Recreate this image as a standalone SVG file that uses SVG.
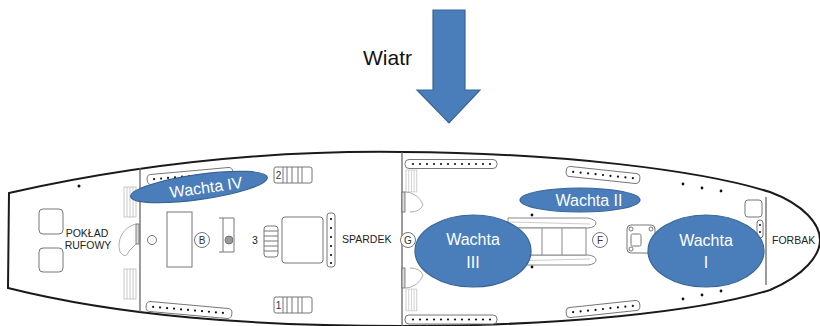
<svg xmlns="http://www.w3.org/2000/svg" width="820" height="326" viewBox="0 0 820 326">
<style>
.hull{fill:none;stroke:#1a1a1a;stroke-width:2}
.wall{fill:none;stroke:#666;stroke-width:1.3}
.thin{fill:#fff;stroke:#777;stroke-width:1}
.bench{fill:#fff;stroke:#777;stroke-width:1}
.door{fill:none;stroke:#999;stroke-width:0.8}
.dot{fill:#111}
.blue{fill:#4A7EBB;stroke:#3A6496;stroke-width:1.2}
.wt{font-family:"Liberation Sans",Arial,sans-serif;fill:#fff;font-size:16px;text-anchor:middle}
.lbl{font-family:"Liberation Sans",Arial,sans-serif;fill:#222;font-size:10.5px}
.cl{font-family:"Liberation Sans",Arial,sans-serif;fill:#333;font-size:10px;text-anchor:middle}
</style>
<defs>
<g id="bench12">
<rect x="-46" y="-4.5" width="92" height="9" rx="4" class="bench"/>
<g class="dot">
<circle cx="-38" cy="0" r="1.1"/><circle cx="-31" cy="0" r="1.1"/><circle cx="-24" cy="0" r="1.1"/><circle cx="-17" cy="0" r="1.1"/><circle cx="-10" cy="0" r="1.1"/><circle cx="-3" cy="0" r="1.1"/><circle cx="4" cy="0" r="1.1"/><circle cx="11" cy="0" r="1.1"/><circle cx="18" cy="0" r="1.1"/><circle cx="25" cy="0" r="1.1"/><circle cx="32" cy="0" r="1.1"/><circle cx="39" cy="0" r="1.1"/>
</g>
</g>
<g id="bench9">
<rect x="-37" y="-5" width="74" height="10" rx="4" class="bench"/>
<g class="dot">
<circle cx="-30" cy="0" r="1.1"/><circle cx="-22.5" cy="0" r="1.1"/><circle cx="-15" cy="0" r="1.1"/><circle cx="-7.5" cy="0" r="1.1"/><circle cx="0" cy="0" r="1.1"/><circle cx="7.5" cy="0" r="1.1"/><circle cx="15" cy="0" r="1.1"/><circle cx="22.5" cy="0" r="1.1"/><circle cx="30" cy="0" r="1.1"/>
</g>
</g>
<g id="bench11">
<rect x="-43" y="-5" width="86" height="10" rx="4" class="bench"/>
<g class="dot">
<circle cx="-36" cy="0" r="1.1"/><circle cx="-29" cy="0" r="1.1"/><circle cx="-22" cy="0" r="1.1"/><circle cx="-15" cy="0" r="1.1"/><circle cx="-8" cy="0" r="1.1"/><circle cx="-1" cy="0" r="1.1"/><circle cx="6" cy="0" r="1.1"/><circle cx="13" cy="0" r="1.1"/><circle cx="20" cy="0" r="1.1"/><circle cx="27" cy="0" r="1.1"/><circle cx="34" cy="0" r="1.1"/>
</g>
</g>
<g id="steps">
<rect x="0" y="0" width="38" height="16" rx="2" class="thin"/>
<line x1="9" y1="0" x2="9" y2="16" stroke="#777"/>
<line x1="13" y1="0" x2="13" y2="16" stroke="#777"/>
<line x1="18" y1="0" x2="18" y2="16" stroke="#777"/>
<line x1="24" y1="0" x2="24" y2="16" stroke="#777"/>
<line x1="28" y1="0" x2="28" y2="16" stroke="#777"/>
</g>
<g id="stair">
<rect x="0" y="0" width="12" height="30" fill="none" stroke="#bbb" stroke-width="0.8"/>
<line x1="3" y1="0" x2="3" y2="30" stroke="#bbb" stroke-width="0.8"/>
<line x1="6" y1="0" x2="6" y2="30" stroke="#bbb" stroke-width="0.8"/>
<line x1="9" y1="0" x2="9" y2="30" stroke="#bbb" stroke-width="0.8"/>
</g>
</defs>
<rect width="820" height="326" fill="#fff"/>

<g id="wind">
<text x="363" y="65" font-family="'Liberation Sans',Arial,sans-serif" font-size="21" fill="#111">Wiatr</text>
<path d="M433,10 L465,10 L465,90 L480,90 L449,123 L417,90 L433,90 Z" class="blue"/>
</g>

<g id="hull">
<path class="hull" d="M9,193 C120,168 250,150 402,152 C560,153 700,170 770,192 C805,205 820,225 820,240 C820,255 805,275 770,290 C700,312 560,326 402,326 C250,326 120,316 8,288 Z"/>
<line class="wall" x1="140" y1="168" x2="140" y2="312"/>
<line class="wall" x1="402" y1="152" x2="402" y2="326"/>
<line class="wall" x1="766" y1="197" x2="766" y2="285"/>
</g>

<g id="rufowy">
<circle class="dot" cx="79" cy="186" r="1.5"/>
<rect x="39" y="209" width="24" height="25" rx="4" class="thin"/>
<rect x="39" y="248" width="24" height="24" rx="4" class="thin"/>
<text class="lbl" x="87" y="237" text-anchor="middle">POKŁAD</text>
<text class="lbl" x="88" y="249" text-anchor="middle">RUFOWY</text>
<use href="#stair" x="124" y="187"/>
<use href="#stair" x="124" y="269"/>
<rect x="136" y="224" width="3" height="20" fill="#ddd" stroke="#666" stroke-width="0.8"/>
<path class="door" d="M136,224 A22,22 0 0 0 120,252 Q126,260 129,251 L136,244"/>
</g>

<g id="spardek">
<use href="#bench11" transform="translate(190,176) rotate(-5)"/>
<use href="#bench11" transform="translate(189,310) rotate(5)"/>
<circle cx="152" cy="240" r="4.5" class="thin"/>
<rect x="167" y="212" width="25" height="55" class="thin"/>
<circle cx="202" cy="240" r="7.5" class="thin"/>
<text class="cl" x="202" y="243.5">B</text>
<path d="M219,218 L234,218 L234,252 L219,252 M223,218 L223,252" fill="none" stroke="#777"/>
<circle cx="229" cy="240" r="4" fill="#999" stroke="#777"/>
<use href="#steps" x="274" y="167"/>
<text class="cl" x="278.5" y="179" font-size="10">2</text>
<use href="#steps" x="274" y="297"/>
<text class="cl" x="278.5" y="309" font-size="10">1</text>
<text class="lbl" x="252" y="244">3</text>
<rect x="264" y="226" width="14" height="31" rx="3" class="thin"/>
<path d="M264,231 H278 M264,236 H278 M264,241 H278 M264,246 H278 M264,251 H278" stroke="#777" fill="none"/>
<rect x="282" y="217" width="41" height="46" rx="3" class="thin"/>
<rect x="327" y="213" width="8" height="54" rx="3" class="bench"/>
<g class="dot"><circle cx="331" cy="219" r="1.1"/><circle cx="331" cy="228" r="1.1"/><circle cx="331" cy="237" r="1.1"/><circle cx="331" cy="246" r="1.1"/><circle cx="331" cy="255" r="1.1"/><circle cx="331" cy="263" r="1.1"/></g>
<text class="lbl" x="342" y="243">SPARDEK</text>
</g>

<g id="midship">
<use href="#bench12" x="451" y="164"/>
<use href="#bench12" x="451" y="319.5"/>
<use href="#stair" transform="translate(406,170) scale(0.9,0.73)"/>
<use href="#stair" transform="translate(406,289) scale(0.9,0.73)"/>
<rect x="402" y="192" width="3" height="20" fill="#ddd" stroke="#666" stroke-width="0.8"/>
<path class="door" d="M405,192 A19,19 0 0 1 423,205 Q420,212 410,212"/>
<rect x="402" y="268" width="3" height="20" fill="#ddd" stroke="#666" stroke-width="0.8"/>
<path class="door" d="M410,268 Q420,268 423,275 A19,19 0 0 1 405,288"/>
<circle cx="408" cy="240" r="7.5" class="thin"/>
<text class="cl" x="408" y="243.5">G</text>
<g id="raft" fill="none" stroke="#888" stroke-width="1">
<path d="M508,218 L588,218 Q596,220 596,223 Q596,227 588,228 L508,228 Z" fill="#fff"/>
<path d="M508,255 L588,255 Q596,256 596,260 Q596,264 588,265 L508,265 Z" fill="#fff"/>
<rect x="518" y="228" width="68" height="27" fill="#fff"/>
<line x1="542" y1="228" x2="542" y2="255"/>
<line x1="562" y1="228" x2="562" y2="255"/>
<line x1="510" y1="222" x2="590" y2="224" stroke="#aaa" stroke-width="0.6"/>
<line x1="510" y1="261" x2="590" y2="259" stroke="#aaa" stroke-width="0.6"/>
</g>
<circle class="dot" cx="532" cy="215" r="1.4"/>
<circle class="dot" cx="532" cy="267" r="1.4"/>
<circle cx="600" cy="240" r="7.5" class="thin"/>
<text class="cl" x="600" y="243.5">F</text>
</g>

<g id="bow">
<use href="#bench9" transform="translate(603,175) rotate(6)"/>
<use href="#bench9" transform="translate(603,309) rotate(-6)"/>
<rect x="627" y="225" width="28" height="28" rx="4" class="thin"/>
<rect x="631" y="234" width="10" height="12" rx="1.5" class="thin"/>
<circle cx="631" cy="229" r="2" class="thin"/><circle cx="651" cy="229" r="2" class="thin"/><circle cx="631" cy="249" r="2" class="thin"/><circle cx="651" cy="249" r="2" class="thin"/>
<g class="dot">
<circle cx="683" cy="184" r="1.4"/><circle cx="702" cy="188" r="1.4"/><circle cx="721" cy="191" r="1.4"/>
<circle cx="683" cy="299" r="1.4"/><circle cx="702" cy="295" r="1.4"/><circle cx="721" cy="291" r="1.4"/>
</g>
<rect x="745" y="200" width="17" height="17" rx="3" class="thin"/>
<rect x="757" y="220" width="6" height="18" rx="3" class="bench"/>
<circle class="dot" cx="760" cy="225" r="1"/><circle class="dot" cx="760" cy="232" r="1"/>
<text class="lbl" x="772" y="244">FORBAK</text>
</g>

<g id="wachta4">
<ellipse cx="199" cy="187" rx="69" ry="12.5" transform="rotate(-8 199 187)" class="blue"/>
<text class="wt" x="206" y="193" transform="rotate(-8 206 187)">Wachta IV</text>
</g>
<g id="wachta3">
<ellipse cx="473" cy="251" rx="58" ry="36" class="blue"/>
<text class="wt" x="473" y="245">Wachta</text>
<text class="wt" x="473" y="268">III</text>
</g>
<g id="wachta2">
<ellipse cx="580" cy="200" rx="60" ry="12" class="blue"/>
<text class="wt" x="589" y="205.5" font-size="15">Wachta II</text>
</g>
<g id="wachta1">
<ellipse cx="706" cy="251" rx="58" ry="36" class="blue"/>
<text class="wt" x="706" y="246">Wachta</text>
<text class="wt" x="706" y="268">I</text>
</g>
</svg>
